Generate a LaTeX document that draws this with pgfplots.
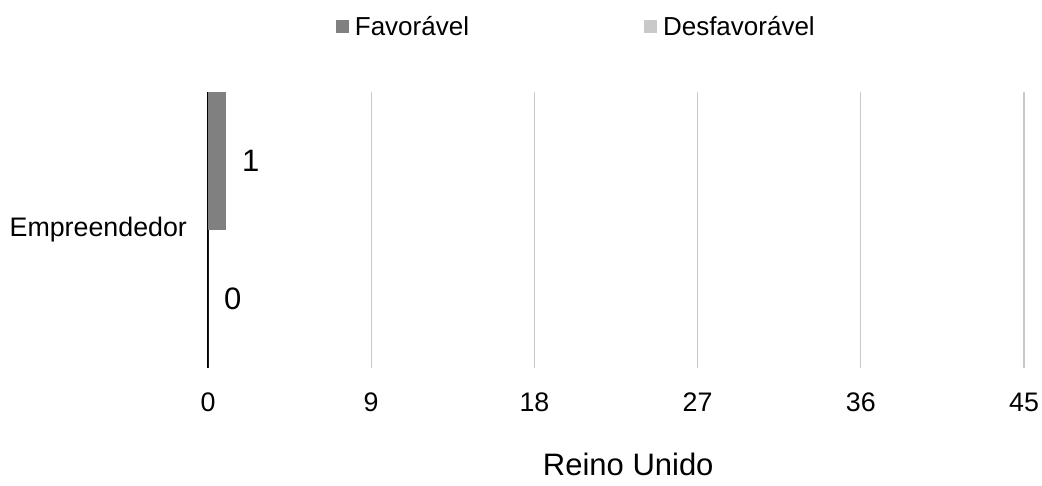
\documentclass[border=0pt]{standalone}
\usepackage{pgfplots}
\pgfplotsset{compat=1.18}
\usetikzlibrary{calc}
\usepackage{fontspec}
\setmainfont{Liberation Sans}
\definecolor{fav}{HTML}{808080}
\definecolor{desf}{HTML}{C9C9C9}
\definecolor{gridc}{HTML}{C8C8C8}
\begin{document}
\begin{tikzpicture}
\begin{axis}[
  scale only axis,
  width=408pt, height=138pt,
  xbar, bar width=0.5, bar shift=0pt,
  xmin=0, xmax=45,
  ymin=-0.5, ymax=0.5,
  xtick={0,9,18,27,36,45},
  ytick={0}, yticklabels={Empreendedor},
  major tick length=0pt,
  axis x line*=bottom, axis y line*=left,
  x axis line style={draw=none},
  y axis line style={black, line width=1.3pt, -},
  xmajorgrids, major grid style={gridc, line width=0.6pt},
  /pgf/number format/assume math mode=true,
  ticklabel style={font=\fontsize{13.4}{15}\selectfont},
  xticklabel style={yshift=-9pt},
  yticklabel style={xshift=-7pt},
  xlabel={Reino Unido},
  xlabel style={font=\fontsize{15.5}{18}\selectfont, at={(axis description cs:0.515,0)}, anchor=center, yshift=-48pt},
  nodes near coords,
  every node near coord/.append style={font=\fontsize{15.5}{18}\selectfont, black, xshift=4.5pt},
  legend style={draw=none, at={(axis description cs:0.452,1.2355)}, anchor=center,
    font=\fontsize{13}{15}\selectfont, inner sep=0pt,
    /tikz/every odd column/.append style={column sep=1.5pt},
    /tikz/every even column/.append style={column sep=86pt},
    nodes={inner sep=1.5pt}},
  legend columns=2,
  legend image code/.code={\fill[#1] (0pt,-3.25pt) rectangle (6.5pt,3.25pt);},
]
\addplot[fill=fav, draw=none] coordinates {(1,0.25)};
\addlegendentry{Favorável}
\addplot[fill=desf, draw=none] coordinates {(0,-0.25)};
\addlegendentry{Desfavorável}
\end{axis}
\pgfresetboundingbox
\path[use as bounding box] ($(current axis.south west)+(-104pt,-59pt)$) rectangle ($(current axis.north east)+(9pt,46pt)$);
\end{tikzpicture}
\end{document}
